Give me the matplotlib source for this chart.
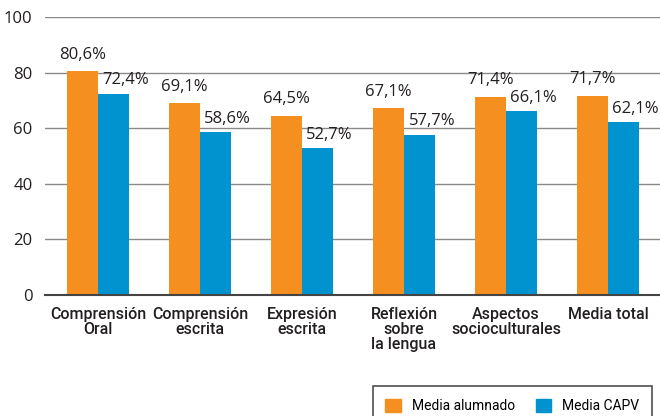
import matplotlib.pyplot as plt
import numpy as np
from matplotlib.patches import Patch

categorias = ["Comprensión\nOral", "Comprensión\nescrita", "Expresión\nescrita",
              "Reflexión\nsobre\nla lengua", "Aspectos\nsocioculturales", "Media total"]
alumnado = [80.6, 69.1, 64.5, 67.1, 71.4, 71.7]
capv = [72.4, 58.6, 52.7, 57.7, 66.1, 62.1]
yticks = [0, 20, 40, 60, 80, 100]

naranja = "#F58F1F"
azul = "#0093D0"
texto = "#231F20"

plt.rcParams["font.family"] = ["Open Sans", "DejaVu Sans"]

fig = plt.figure(figsize=(6.6, 4.16), dpi=100)
ax = fig.add_axes([0.068, 0.291, 0.932, 0.668])

x = np.arange(len(categorias))
w = 0.3
ax.bar(x - w / 2, alumnado, w, color=naranja, zorder=3)
ax.bar(x + w / 2, capv, w, color=azul, zorder=3)

def fmt(v):
    return ("%.1f%%" % v).replace(".", ",")

for xi, v in zip(x, alumnado):
    ax.annotate(fmt(v), (xi - w / 2, v), xytext=(0, 6), textcoords="offset points",
                ha="center", va="bottom", fontsize=12, color=texto)
for xi, v in zip(x, capv):
    ax.annotate(fmt(v), (xi + w / 2, v), xytext=(9, 4), textcoords="offset points",
                ha="center", va="bottom", fontsize=12, color=texto)

ax.set_xlim(-0.52, 5.51)
ax.set_ylim(0, 100)
ax.set_yticks(yticks)
ax.set_yticklabels([str(t) for t in yticks], fontsize=12, color=texto)
ax.set_xticks(x)
ax.set_xticklabels(categorias, fontsize=11.5, color=texto, fontweight="medium",
                   family=["Roboto", "DejaVu Sans"], linespacing=1.0)
ax.tick_params(axis="both", length=0)
ax.tick_params(axis="y", pad=9)
ax.tick_params(axis="x", pad=9)
ax.grid(axis="y", color="#8a8a8a", linewidth=1, zorder=0)
for s in ["top", "right", "left"]:
    ax.spines[s].set_visible(False)
ax.spines["bottom"].set_color("#444444")
ax.spines["bottom"].set_linewidth(1.5)
ax.spines["bottom"].set_zorder(4)

handles = [Patch(color=naranja, label="Media alumnado"), Patch(color=azul, label="Media CAPV")]
leg = fig.legend(handles=handles, loc="lower right", bbox_to_anchor=(0.998, -0.04), ncol=2,
                 frameon=True, fancybox=False, prop={"family": "Roboto", "size": 10},
                 handlelength=1.1, handleheight=1.1,
                 columnspacing=1.5, borderpad=0.9, handletextpad=0.8)
leg.get_frame().set_edgecolor("#222222")
leg.get_frame().set_linewidth(1.2)

fig.savefig("out.png", dpi=100)
